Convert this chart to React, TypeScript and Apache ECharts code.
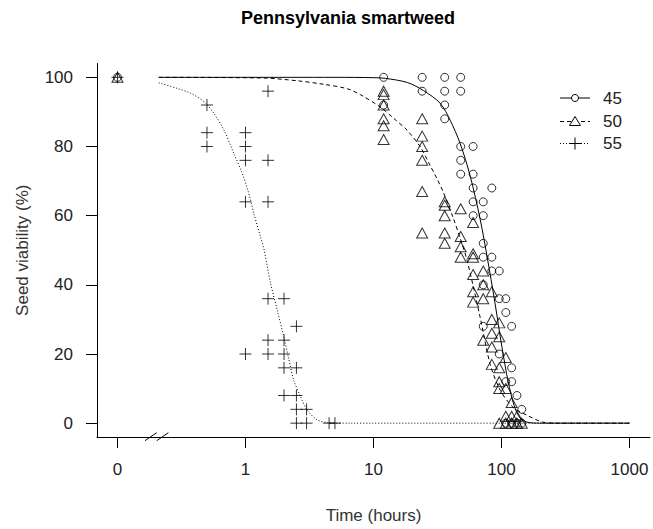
import React, { useEffect, useRef } from "react";
import * as echarts from "echarts";

// ---- data (time in hours, viability in %) ----
const groupNames = ["45", "50", "55"];
const xTickValues = [0.1, 1, 10, 100, 1000]; // 0.1 stands for time 0 (axis break)
const xTickLabels = ["0", "1", "10", "100", "1000"];
const yTickValues = [0, 20, 40, 60, 80, 100];
const ZERO_AT = 0.1;

const pts45: [number, number][] = [
  [0, 100],
  [12, 100], [12, 92],
  [24, 100], [24, 96],
  [36, 100], [36, 96], [36, 92], [36, 88],
  [48, 100], [48, 96], [48, 80], [48, 76], [48, 72],
  [60, 80], [60, 72], [60, 68], [60, 64], [60, 60],
  [72, 64], [72, 60], [72, 52], [72, 48], [72, 40], [72, 28],
  [84, 68], [84, 48], [84, 44],
  [96, 44], [96, 36], [96, 20],
  [108, 36], [108, 32], [108, 12], [108, 0],
  [120, 28], [120, 16], [120, 12], [120, 0],
  [132, 8], [132, 0],
  [144, 4], [144, 0],
];

const pts50: [number, number][] = [
  [0, 100],
  [12, 96], [12, 95], [12, 92], [12, 88], [12, 86], [12, 82],
  [24, 88], [24, 83], [24, 80], [24, 76], [24, 67], [24, 55],
  [36, 64], [36, 63], [36, 60], [36, 55], [36, 52],
  [48, 62], [48, 54], [48, 51], [48, 48],
  [60, 58], [60, 49], [60, 48], [60, 43], [60, 38], [60, 35],
  [72, 44], [72, 40], [72, 36], [72, 24],
  [84, 38], [84, 30], [84, 26], [84, 22], [84, 17],
  [96, 29], [96, 25], [96, 16], [96, 12], [96, 10], [96, 0],
  [108, 19], [108, 10], [108, 2], [108, 0],
  [120, 6], [120, 2], [120, 0],
  [132, 2], [132, 0],
  [144, 0],
];

const pts55: [number, number][] = [
  [0, 100],
  [0.5, 92], [0.5, 84], [0.5, 80],
  [1, 84], [1, 80], [1, 76], [1, 64], [1, 20],
  [1.5, 96], [1.5, 76], [1.5, 64], [1.5, 36], [1.5, 24], [1.5, 20],
  [2, 36], [2, 24], [2, 20], [2, 16], [2, 8],
  [2.5, 28], [2.5, 16], [2.5, 8], [2.5, 4], [2.5, 0],
  [3, 4], [3, 0],
  [4.5, 0], [5, 0],
];

// fitted curves
const curve45T = [0.21, 1, 5, 10, 12.4, 18.4, 24.5, 33.2, 39.7, 47.5, 56.9, 68.1, 77.3, 88.7, 100.8, 112.7, 125.7, 139.5, 158, 199, 1000];
const curve45V = [100, 100, 100, 99.9, 99.7, 98.5, 96.2, 92.5, 87.6, 80.9, 71.5, 59, 48, 35, 22, 12, 5, 1.5, 0.3, 0, 0];

const curve50T = [0.21, 1.38, 2.54, 4.06, 6.24, 7.89, 11.3, 14.3, 18.3, 23.2, 27.7, 31.5, 34.9, 41.8, 47.5, 53.9, 68.1, 81.6, 97.9, 123, 158, 210, 271, 1000];
const curve50V = [100, 99.8, 99, 98, 96.7, 95, 91.4, 88.2, 84.7, 79.9, 74.5, 70.5, 67, 59.5, 53.5, 47, 30.6, 17, 9.5, 4.6, 2.3, 0.3, 0, 0];

const curve55T = [0.21, 0.293, 0.372, 0.473, 0.566, 0.677, 0.811, 0.942, 1.06, 1.16, 1.31, 1.39, 1.57, 1.77, 1.99, 2.18, 2.38, 2.69, 3.03, 3.62, 4.34, 6.6, 1000];
const curve55V = [98.4, 96.8, 95.4, 93, 89.6, 84.8, 78, 72.3, 66.5, 60.7, 53.9, 50.5, 40.5, 32.7, 25, 18.5, 12.5, 7.7, 3.8, 1, 0.2, 0, 0];

const FONT = '"Liberation Sans", Arial, Helvetica, sans-serif';

const plusPath = "path://M0 5L10 5M5 0L5 10";

export default function App() {
  const ref = useRef<HTMLDivElement>(null);
  useEffect(() => {
    if (!ref.current) return;
    const chart = echarts.init(ref.current, null, { renderer: "svg" });
    const toX = (t: number) => (t === 0 ? ZERO_AT : t);
    const pts = (arr: [number, number][]) => arr.map(([t, v]) => [toX(t), v]);
    const curve = (ts: number[], vs: number[]) => ts.map((t, i) => [t, vs[i]]);
    const black = "#000";
    const openStyle = { color: "rgba(0,0,0,0)", borderColor: black, borderWidth: 1 };
    const lineBase = { type: "line", showSymbol: false, symbol: "none", smooth: 0.3, silent: true, z: 2 };

    const legendRows = [98, 121.5, 143.5];
    const legendGraphics: any[] = [];
    const dashes: any[] = [null, [4, 3], [1, 2]];
    legendRows.forEach((y, i) => {
      legendGraphics.push({
        type: "line",
        shape: { x1: 560, y1: y, x2: 590, y2: y },
        style: { stroke: black, lineWidth: 1, lineDash: dashes[i] || undefined },
      });
      legendGraphics.push({
        type: "text",
        x: 603,
        y: y,
        style: { text: groupNames[i], font: `17px ${FONT}`, fill: "#222", textVerticalAlign: "middle", textAlign: "left" },
      });
    });
    legendGraphics.push({ type: "circle", shape: { cx: 575, cy: legendRows[0], r: 3.5 }, style: { fill: "#fff", stroke: black, lineWidth: 1 } });
    legendGraphics.push({
      type: "polygon",
      shape: { points: [[575, legendRows[1] - 5], [569.5, legendRows[1] + 4], [580.5, legendRows[1] + 4]] },
      style: { fill: "#fff", stroke: black, lineWidth: 1 },
    });
    legendGraphics.push({ type: "line", shape: { x1: 569, y1: legendRows[2], x2: 581, y2: legendRows[2] }, style: { stroke: black, lineWidth: 1 } });
    legendGraphics.push({ type: "line", shape: { x1: 575, y1: legendRows[2] - 6, x2: 575, y2: legendRows[2] + 6 }, style: { stroke: black, lineWidth: 1 } });

    const breakMarks = [
      { type: "line", shape: { x1: 145, y1: 440.7, x2: 156.7, y2: 432.7 }, style: { stroke: black, lineWidth: 1 } },
      { type: "line", shape: { x1: 156.7, y1: 440.7, x2: 168.3, y2: 432.7 }, style: { stroke: black, lineWidth: 1 } },
    ];

    const option: any = {
      animation: false,
      backgroundColor: "#fff",
      grid: { left: 97, right: 3, top: 63.5, bottom: 92, containLabel: false },
      xAxis: {
        type: "log",
        logBase: 10,
        min: Math.pow(10, -1.16),
        max: Math.pow(10, 3.16),
        name: "Time (hours)",
        nameLocation: "middle",
        nameGap: 70,
        nameTextStyle: { fontFamily: FONT, fontSize: 17, color: "#333" },
        axisLine: { show: true, onZero: false, lineStyle: { color: black, width: 1 } },
        axisTick: { show: true, inside: false, length: 11, lineStyle: { color: black, width: 1 }, customValues: xTickValues },
        axisLabel: {
          customValues: xTickValues,
          margin: 24,
          fontFamily: FONT,
          fontSize: 17,
          color: "#222",
          formatter: (v: number) => {
            const idx = xTickValues.findIndex((t) => Math.abs(Math.log10(t) - Math.log10(v)) < 1e-6);
            return idx >= 0 ? xTickLabels[idx] : "";
          },
        },
        splitLine: { show: false },
        minorTick: { show: false },
      },
      yAxis: {
        type: "value",
        min: -4,
        max: 104,
        name: "Seed viability (%)",
        nameLocation: "middle",
        nameGap: 66,
        nameRotate: 90,
        nameTextStyle: { fontFamily: FONT, fontSize: 17, color: "#333" },
        axisLine: { show: true, lineStyle: { color: black, width: 1 } },
        axisTick: { show: true, inside: false, length: 11, lineStyle: { color: black, width: 1 }, customValues: yTickValues },
        axisLabel: { customValues: yTickValues, margin: 24, fontFamily: FONT, fontSize: 17, color: "#222" },
        splitLine: { show: false },
      },
      graphic: [
        {
          type: "text",
          x: 348,
          y: 18,
          style: { text: "Pennsylvania smartweed", font: `bold 18px ${FONT}`, fill: "#000", textAlign: "center", textVerticalAlign: "middle" },
        },
        ...breakMarks,
        ...legendGraphics,
      ],
      series: [
        { ...lineBase, name: "fit45", data: curve(curve45T, curve45V), lineStyle: { color: black, width: 1, type: "solid" } },
        { ...lineBase, name: "fit50", data: curve(curve50T, curve50V), lineStyle: { color: black, width: 1, type: [4, 3] } },
        { ...lineBase, name: "fit55", data: curve(curve55T, curve55V), lineStyle: { color: black, width: 1, type: [1, 2] } },
        { type: "scatter", name: "45", data: pts(pts45), symbol: "circle", symbolSize: 8, itemStyle: openStyle, silent: true, z: 3 },
        { type: "scatter", name: "50", data: pts(pts50), symbol: "triangle", symbolSize: [11, 10], itemStyle: openStyle, silent: true, z: 3 },
        { type: "scatter", name: "55", data: pts(pts55), symbol: plusPath, symbolSize: 12, itemStyle: openStyle, silent: true, z: 3 },
      ],
    };
    chart.setOption(option);
    return () => chart.dispose();
  }, []);
  return (
    <div
      ref={ref}
      style={{ position: "fixed", left: 0, top: 0, width: 653, height: 529, background: "#fff" }}
    />
  );
}
